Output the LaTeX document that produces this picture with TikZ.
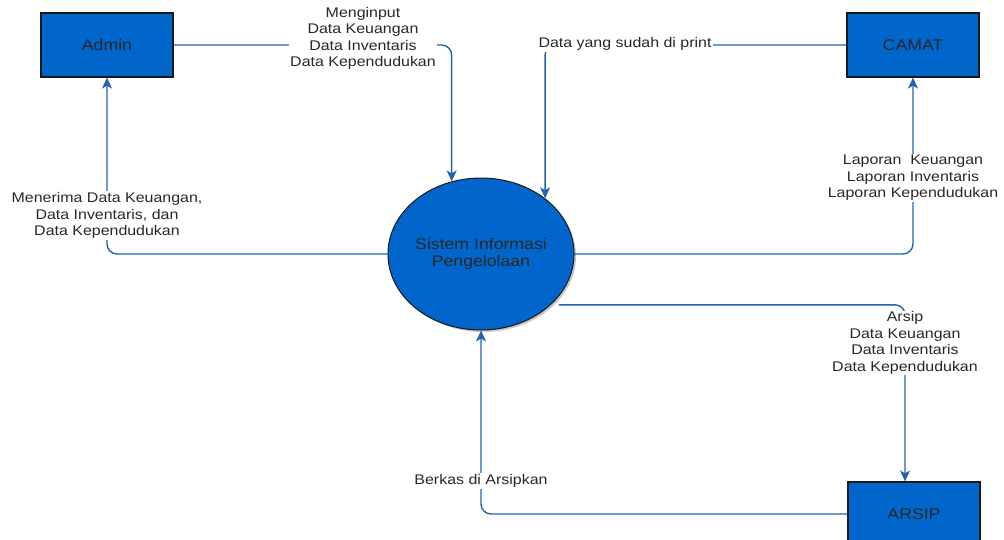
\documentclass[tikz,border=0pt]{standalone}
\usepackage{fontspec}
\setmainfont{Liberation Sans}
\newfontfamily\labfont[FakeStretch=1.14]{Liberation Sans}
\usetikzlibrary{arrows.meta,shapes.geometric,shadows}
\definecolor{boxblue}{RGB}{0,102,204}
\definecolor{flowblue}{RGB}{34,100,172}
\definecolor{labgray}{RGB}{40,40,40}
\begin{document}
\begin{tikzpicture}[x=1pt,y=-1pt,
  entity/.style={draw=black!90, line width=1.2pt, fill=boxblue, minimum width=132pt, minimum height=64pt, inner sep=0pt, text=black!85, font=\labfont\fontsize{15.5}{17}\selectfont},
  proc/.style={ellipse, draw=black!90, line width=1pt, fill=boxblue, minimum width=176pt, minimum height=152pt, inner sep=0pt, align=center, text=black!85, font=\labfont\fontsize{15.5}{17}\selectfont, drop shadow={shadow xshift=2pt, shadow yshift=-2pt, opacity=0.45}},
  flow/.style={draw=flowblue, line width=1.4pt, rounded corners=10pt, -{Stealth[length=11pt,width=10pt,inset=3pt]}},
  lab/.style={fill=white, inner sep=1pt, align=center, text=labgray, font=\labfont\fontsize{14}{16.5}\selectfont}]
\useasboundingbox (0,0) rectangle (1004,539);
\clip (0,0) rectangle (1004,539);
\node[entity] (admin) at (107,45) {Admin};
\node[entity] (camat) at (913,45) {CAMAT};
\node[entity] (arsip) at (914,514) {ARSIP};
\node[proc] (sys) at (481,254) {Sistem Informasi\\Pengelolaan};
\draw[flow] (admin.east) -| (sys.112);
\draw[flow] (camat.west) -| (sys.41);
\draw[flow] (sys.west) -| (admin.south);
\draw[flow] (sys.east) -| (camat.south);
\draw[flow] ([xshift=8pt]sys.-36) -| ([xshift=-9pt]arsip.north);
\draw[flow] (arsip.west) -| (sys.south);
\node[lab] (l1) at (363,38.5) {Menginput\\Data Keuangan\\Data Inventaris\\Data Kependudukan};
\node[lab] (l2) at (625,44) {Data yang sudah di print};
\node[lab] (l3) at (107,215.5) {Menerima Data Keuangan,\\Data Inventaris, dan\\Data Kependudukan};
\node[lab] (l4) at (913,178) {Laporan\ \ Keuangan\\Laporan Inventaris\\Laporan Kependudukan};
\node[lab] (l5) at (905,343) {Arsip\\Data Keuangan\\Data Inventaris\\Data Kependudukan};
\node[lab] (l6) at (481,481) {Berkas di Arsipkan};
\end{tikzpicture}
\end{document}
